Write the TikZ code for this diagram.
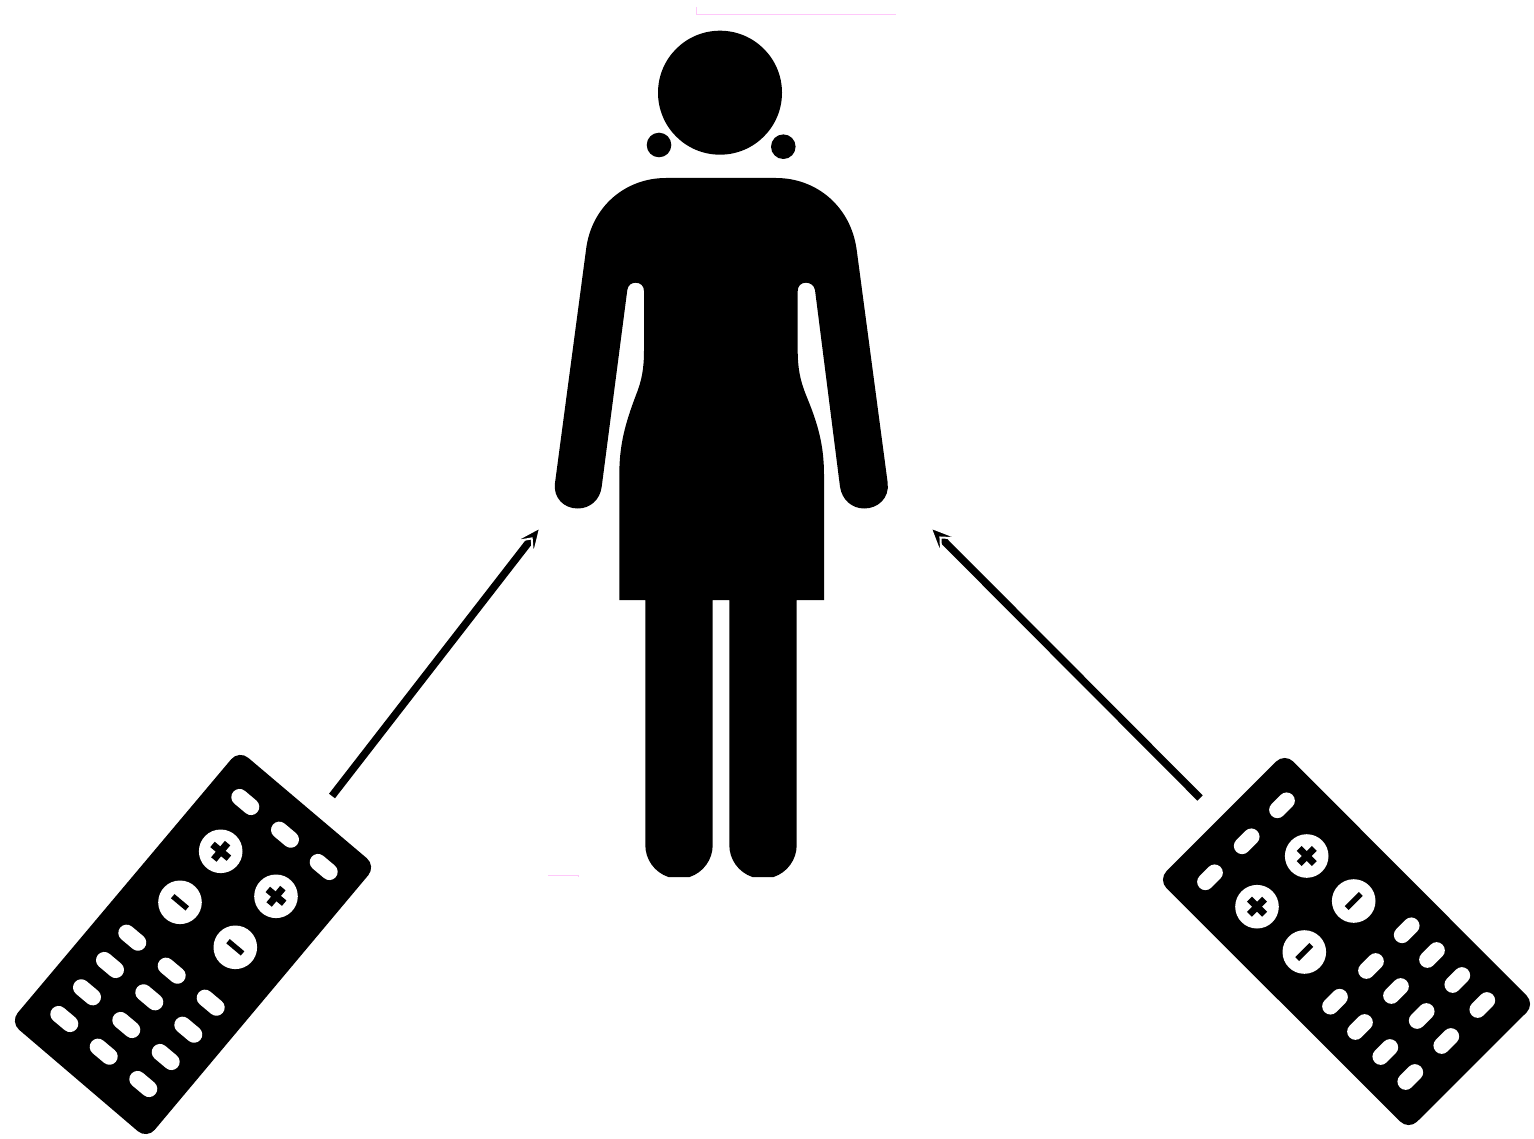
\documentclass[tikz,border=0pt]{standalone}
\usetikzlibrary{arrows.meta}
\tikzset{
  pill/.style={white, line width=16.5pt, line cap=round},
  screwhead/.style={white},
  slot/.style={black, line width=5.5pt},
  crossslot/.style={black, line width=7pt},
  shaft/.style={line width=7.5pt, -{Stealth[length=35pt, width=31pt, inset=17pt, line width=2pt, color=white, fill=black]}},
  trace/.style={color={rgb,255:red,255;green,200;blue,250}, line width=1pt}
}
\begin{document}
\begin{tikzpicture}[x=1pt, y=-1pt]
    \useasboundingbox (0,0) rectangle (1534,1139);
    % Stray marks
    \draw[trace] (696.7,7) -- (696.7,14.5) -- (896,14.5);
    \draw[trace] (548.3,875.3) -- (578.7,875.3) -- (578.7,877);
    % Head and earrings
    \fill (720,92.7) circle [radius=62];
    \fill (659,145) circle [radius=12.3];
    \fill (783.3,146.7) circle [radius=12.3];
    % Body, clockwise from the left shoulder
    \fill (666,178) -- (776,178)
        .. controls (817,178) and (851,207) .. (856.7,250)
        -- (887.7,483)
        .. controls (889.5,498) and (878,508.5) .. (864.3,508.5)
        .. controls (852,508.5) and (842,500) .. (840,486.7)
        -- (815,290)
        .. controls (814,285) and (810,282.7) .. (805.9,282.7)
        .. controls (801,282.7) and (797.7,286) .. (797.7,291)
        -- (797.7,350)
        .. controls (797.7,368) and (800,380) .. (806,395)
        .. controls (818,424) and (824,445) .. (824,475)
        -- (824,600) -- (796.7,600) -- (796.7,845)
        .. controls (796.7,859.5) and (787.4,872.4) .. (773.6,877)
        -- (752.4,877)
        .. controls (738.6,872.4) and (729.3,859.5) .. (729.3,845)
        -- (729.3,600) -- (712.7,600) -- (712.7,845)
        .. controls (712.7,859.5) and (703.4,872.4) .. (689.6,877)
        -- (668.4,877)
        .. controls (654.6,872.4) and (645.3,859.5) .. (645.3,845)
        -- (645.3,600) -- (619.3,600) -- (619.3,475)
        .. controls (619.3,445) and (625,424) .. (636,395)
        .. controls (642,380) and (644,368) .. (644,350)
        -- (644,291)
        .. controls (644,286) and (640.5,282.7) .. (635.7,282.7)
        .. controls (631.5,282.7) and (628,285) .. (627.3,290)
        -- (601.7,486.7)
        .. controls (600,500) and (590,508.5) .. (577.7,508.5)
        .. controls (564,508.5) and (553,498) .. (555,483)
        -- (586,250)
        .. controls (591,207) and (625,178) .. (666,178) -- cycle;
    % Left blister
    \fill[rounded corners=12pt] (239,750) -- (376,866) -- (147,1139) -- (10,1022) -- cycle;
    \foreach \x/\y in {245.3/802, 285/834.7, 323.7/867, 132.3/937.7, 171.7/970.7, 210.7/1002.7, 110/965, 149.3/997.3, 188.3/1029.7, 87/992.3, 126.3/1025, 165.7/1057, 64.3/1019, 103.7/1051.7, 143.3/1084}
        \draw[pill] (\x,\y) ++(40:7.5) -- ++(220:15);
    \foreach \x/\y in {220.7/851.3, 276/896.3} {
        \fill[screwhead] (\x,\y) circle [radius=21.8];
        \draw[crossslot] (\x,\y) ++(40:10.7) -- ++(220:21.4);
        \draw[crossslot] (\x,\y) ++(130:10.7) -- ++(310:21.4);
    }
    \foreach \x/\y in {180/902.3, 235.3/947.3} {
        \fill[screwhead] (\x,\y) circle [radius=21.8];
        \draw[slot] (\x,\y) ++(40:9.5) -- ++(220:19);
    }
    % Right blister
    \fill[rounded corners=12pt] (1284.7,753) -- (1535,1004) -- (1408.7,1130) -- (1158,879.7) -- cycle;
    \foreach \x/\y in {1282/805.3, 1246.7/841.3, 1210/877.3, 1406.7/930.3, 1432/955, 1457.3/980, 1482.3/1005, 1371/966, 1396/991, 1421.7/1016, 1446.3/1041, 1335/1001.7, 1360/1027, 1385.3/1052, 1410.3/1077}
        \draw[pill] (\x,\y) ++(-45:6.5) -- ++(135:13);
    \foreach \x/\y in {1306.7/856, 1257/906.7} {
        \fill[screwhead] (\x,\y) circle [radius=21.8];
        \draw[crossslot] (\x,\y) ++(45:10.7) -- ++(225:21.4);
        \draw[crossslot] (\x,\y) ++(135:10.7) -- ++(315:21.4);
    }
    \foreach \x/\y in {1353.7/901, 1304.3/952} {
        \fill[screwhead] (\x,\y) circle [radius=21.8];
        \draw[slot] (\x,\y) ++(-45:10) -- ++(135:20);
    }
    % Arrows towards the figure
    \coordinate (leftstart) at (332,796);
    \coordinate (lefttip) at (541.8,525.4);
    \coordinate (rightstart) at (1200,798);
    \coordinate (righttip) at (928.8,525.8);
    \draw[shaft] (leftstart) -- (lefttip);
    \draw[shaft] (rightstart) -- (righttip);
\end{tikzpicture}
\end{document}
